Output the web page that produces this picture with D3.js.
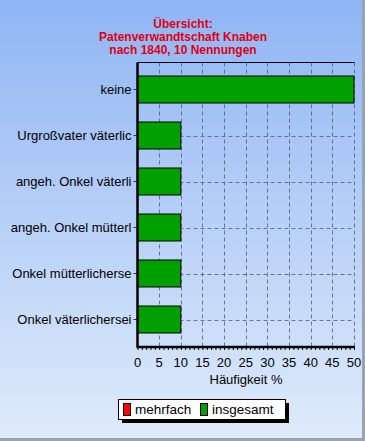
<!DOCTYPE html>
<html>
<head>
<meta charset="utf-8">
<script src="https://cdn.jsdelivr.net/npm/d3@7"></script>
<style>
  body { margin: 0; padding: 0; }
  svg { display: block; font-family: Arial, "Liberation Sans", sans-serif; }
</style>
</head>
<body>
<div id="chart"></div>
<script>
// data
const titleLines = ["Übersicht:", "Patenverwandtschaft Knaben", "nach 1840, 10 Nennungen"];
const categories = ["keine", "Urgroßvater väterlic", "angeh. Onkel väterli", "angeh. Onkel mütterl", "Onkel mütterlicherse", "Onkel väterlichersei"];
const insgesamt = [50, 10, 10, 10, 10, 10];
const xTicks = [0, 5, 10, 15, 20, 25, 30, 35, 40, 45, 50];
const legendItems = ["mehrfach", "insgesamt"];
const legendColors = ["#ff0000", "#00a000"];

const W = 365, H = 441;
const plot = {left: 137.5, top: 62.5, right: 354, bottom: 347};

const svg = d3.select("#chart").append("svg")
    .attr("width", W)
    .attr("height", H);

// background gradient
const defs = svg.append("defs");
const grad = defs.append("linearGradient")
    .attr("id", "bg").attr("x1", 0).attr("y1", 0).attr("x2", 0).attr("y2", 1);
grad.append("stop").attr("offset", "0%").attr("stop-color", "#8fb5f4");
grad.append("stop").attr("offset", "100%").attr("stop-color", "#e0ebfb");

svg.append("rect")
    .attr("width", W).attr("height", H)
    .attr("fill", "url(#bg)");
// window frame on right and bottom
svg.append("rect").attr("x", 362).attr("y", 0).attr("width", 3).attr("height", H).attr("fill", "#9aa3b0");
svg.append("rect").attr("x", 0).attr("y", 438).attr("width", W).attr("height", 3).attr("fill", "#9aa3b0");

// title
svg.append("text")
    .attr("text-anchor", "middle")
    .attr("fill", "#e00010")
    .style("font-size", "12px")
    .style("font-weight", "bold")
    .selectAll("tspan")
    .data(titleLines)
    .join("tspan")
        .attr("x", 183)
        .attr("y", (d, i) => 28 + i * 13)
        .text(d => d);

// scales
const x = d3.scaleLinear()
    .domain([0, 50])
    .range([plot.left, plot.right]);

const y = d3.scaleBand()
    .domain(categories)
    .range([plot.top + 4, plot.bottom - 4.5])
    .paddingInner(0.413)
    .paddingOuter(0.2065);

// grid
const grid = svg.append("g")
    .attr("stroke", "#4a5570")
    .attr("stroke-width", 1)
    .attr("stroke-dasharray", "4,3")
    .attr("opacity", 0.75);

grid.selectAll("line.v")
    .data(xTicks.slice(1))
    .join("line")
        .attr("class", "v")
        .attr("x1", d => Math.round(x(d)) + 0.5)
        .attr("x2", d => Math.round(x(d)) + 0.5)
        .attr("y1", plot.top)
        .attr("y2", plot.bottom);

grid.selectAll("line.h")
    .data(categories)
    .join("line")
        .attr("class", "h")
        .attr("x1", plot.left)
        .attr("x2", plot.right)
        .attr("y1", d => Math.round(y(d) + y.bandwidth() / 2) + 0.5)
        .attr("y2", d => Math.round(y(d) + y.bandwidth() / 2) + 0.5);

// top border
svg.append("line")
    .attr("x1", plot.left).attr("x2", plot.right + 0.5)
    .attr("y1", plot.top).attr("y2", plot.top)
    .attr("stroke", "#000");

// bars
svg.append("g")
    .selectAll("rect")
    .data(categories)
    .join("rect")
        .attr("x", x(0))
        .attr("y", d => y(d))
        .attr("width", (d, i) => x(insgesamt[i]) - x(0))
        .attr("height", y.bandwidth())
        .attr("fill", "#00a000")
        .attr("stroke", "#000")
        .attr("stroke-width", 1);

// x axis
const xAxis = svg.append("g")
    .attr("transform", `translate(0,${plot.bottom})`);

xAxis.call(d3.axisBottom(x).tickValues(d3.range(0, 51, 1)).tickSize(3).tickFormat(""))
    .call(g => g.select(".domain").remove());

xAxis.selectAll("text.lab")
    .data(xTicks)
    .join("text")
        .attr("class", "lab")
        .attr("x", d => x(d))
        .attr("y", 20)
        .attr("text-anchor", "middle")
        .attr("fill", "#000")
        .style("font-size", "13px")
        .text(d => d);

xAxis.append("line")
    .attr("x1", plot.left - 1).attr("x2", plot.right + 1)
    .attr("y1", 0).attr("y2", 0)
    .attr("stroke", "#000").attr("stroke-width", 2.5);

svg.append("text")
    .attr("x", 246)
    .attr("y", 384)
    .attr("text-anchor", "middle")
    .style("font-size", "13px")
    .text("Häufigkeit %");

// y axis
const yAxis = svg.append("g")
    .attr("transform", `translate(${plot.left},0)`);

yAxis.call(d3.axisLeft(y).tickSize(4).tickPadding(2))
    .call(g => g.select(".domain").remove())
    .call(g => g.selectAll("text").style("font-size", "13px").attr("fill", "#000").attr("font-family", "Arial, 'Liberation Sans', sans-serif"))
    .call(g => g.selectAll(".tick line").attr("stroke", "#333"));

yAxis.append("line")
    .attr("x1", 0).attr("x2", 0)
    .attr("y1", plot.top).attr("y2", plot.bottom)
    .attr("stroke", "#000").attr("stroke-width", 2.5);

// legend
const lg = svg.append("g").attr("transform", "translate(118,399)");
lg.append("rect").attr("x", 4).attr("y", 4).attr("width", 167).attr("height", 20).attr("fill", "#000");
lg.append("rect").attr("x", 0.5).attr("y", 0.5).attr("width", 167).attr("height", 20).attr("fill", "#fff").attr("stroke", "#000");

const li = lg.selectAll("g.item")
    .data(legendItems)
    .join("g")
        .attr("class", "item")
        .attr("transform", (d, i) => `translate(${[5, 82][i]},0)`);
li.append("rect")
    .attr("x", 0.5).attr("y", 4.5).attr("width", 7).attr("height", 12)
    .attr("fill", (d, i) => legendColors[i])
    .attr("stroke", "#000");
li.append("text")
    .attr("x", 12).attr("y", 15)
    .style("font-size", "13.5px")
    .text(d => d);
</script>
</body>
</html>
